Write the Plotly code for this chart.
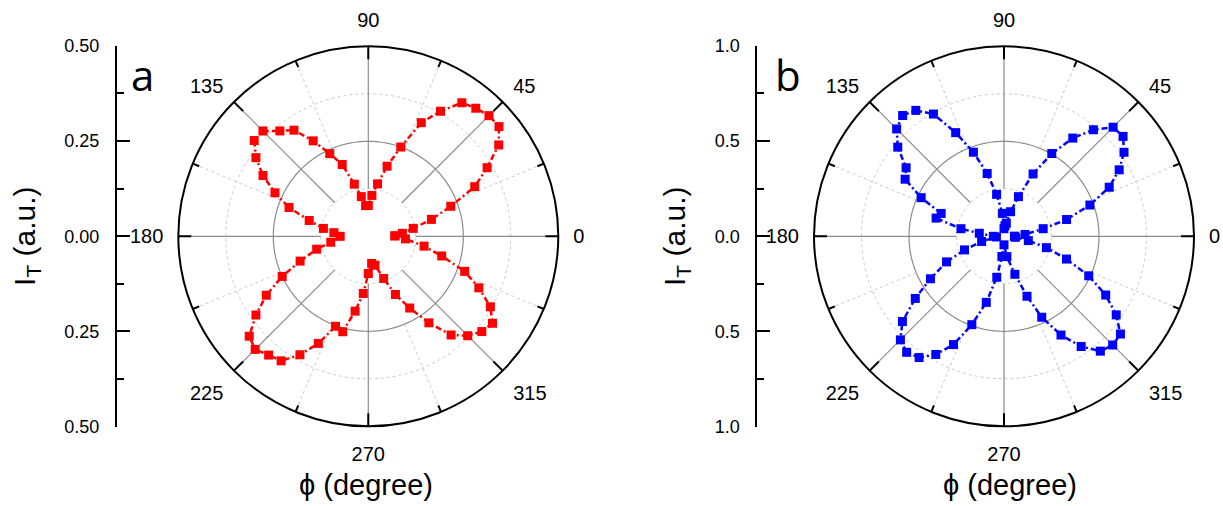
import numpy as np
import plotly.graph_objects as go

# ---- data: transmitted intensity vs. polarisation angle ----
theta_a = [1, 5, 10, 15, 20, 25, 30, 35, 40, 45, 50, 55, 60, 65, 70, 75, 80, 85, 90, 95,
           100, 105, 110, 115, 120, 125, 130, 135, 140, 145, 150, 155, 160, 165, 170, 174,
           180, 189, 194, 200, 205, 210, 215, 220, 225, 230, 235, 240, 245, 250, 255, 260,
           265, 270, 277, 283, 290, 295, 300, 305, 310, 315, 320, 325, 330, 335, 340, 345,
           350, 356]
r_a = [0.070, 0.090, 0.120, 0.172, 0.231, 0.309, 0.361, 0.419, 0.449, 0.449, 0.440, 0.429,
       0.380, 0.330, 0.250, 0.191, 0.140, 0.108, 0.081, 0.081, 0.106, 0.142, 0.201, 0.240,
       0.290, 0.341, 0.362, 0.392, 0.392, 0.361, 0.320, 0.271, 0.222, 0.161, 0.120, 0.091,
       0.074, 0.100, 0.140, 0.191, 0.250, 0.310, 0.361, 0.409, 0.421, 0.408, 0.400, 0.360,
       0.311, 0.252, 0.260, 0.200, 0.151, 0.098, 0.072, 0.078, 0.118, 0.169, 0.218, 0.278,
       0.339, 0.370, 0.390, 0.399, 0.371, 0.321, 0.270, 0.200, 0.149, 0.098]

theta_b = [0, 5, 11, 15, 20, 25, 30, 35, 40, 45, 50, 55, 60, 65, 70, 75, 80, 85, 90, 94,
           100, 105, 110, 115, 120, 125, 130, 135, 140, 145, 150, 155, 160, 165, 170, 173,
           180, 185, 193, 199, 204, 210, 215, 220, 225, 230, 235, 240, 245, 250, 255, 260,
           264, 270, 278, 286, 291, 295, 300, 305, 310, 315, 320, 325, 330, 335, 340, 345,
           350, 355]
r_b = [0.055, 0.111, 0.210, 0.341, 0.481, 0.611, 0.700, 0.771, 0.818, 0.812, 0.732, 0.631,
       0.503, 0.362, 0.222, 0.134, 0.070, 0.056, 0.040, 0.121, 0.224, 0.342, 0.471, 0.602,
       0.743, 0.809, 0.830, 0.799, 0.730, 0.629, 0.601, 0.481, 0.352, 0.370, 0.230, 0.131,
       0.056, 0.040, 0.121, 0.220, 0.331, 0.447, 0.570, 0.698, 0.771, 0.797, 0.779, 0.718,
       0.629, 0.495, 0.360, 0.219, 0.107, 0.045, 0.108, 0.208, 0.338, 0.470, 0.600, 0.708,
       0.789, 0.809, 0.800, 0.721, 0.618, 0.492, 0.350, 0.231, 0.130, 0.060]

angle_ticks = [0, 45, 90, 135, 180, 225, 270, 315]
y_ticks_a = [-0.5, -0.25, 0.0, 0.25, 0.5]
y_text_a = ["0.50", "0.25", "0.00", "0.25", "0.50"]
y_ticks_b = [-1.0, -0.5, 0.0, 0.5, 1.0]
y_text_b = ["1.0", "0.5", "0.0", "0.5", "1.0"]

FONT = "Liberation Sans, Arial, sans-serif"
W, H = 1223, 506
RIM_PX = 190  # polar radius in pixels

fig = go.Figure()


def spokes(angles, r0, r1):
    rs, ts = [], []
    for a in angles:
        rs += [r0, r1, None]
        ts += [a, a, None]
    return rs, ts


def add_panel(subplot, rmax, theta, r, color):
    # circular grid: dotted at 1/4 and 3/4, solid at 1/2 of the full radius
    ring = np.linspace(0, 360, 361)
    for frac, col, dash, w in [(0.25, "#c8c8c8", "dot", 1),
                               (0.5, "#8c8c8c", "solid", 1.2),
                               (0.75, "#c8c8c8", "dot", 1)]:
        fig.add_trace(go.Scatterpolar(r=[frac * rmax] * len(ring), theta=ring, mode="lines",
                                      line=dict(color=col, width=w, dash=dash),
                                      hoverinfo="skip", showlegend=False, subplot=subplot))
    minor_angles = [a + 22.5 for a in angle_ticks]
    # spokes: solid every 45 deg, dotted in between
    rs, ts = spokes(angle_ticks, 0.25 * rmax, rmax)
    fig.add_trace(go.Scatterpolar(r=rs, theta=ts, mode="lines",
                                  line=dict(color="#8c8c8c", width=1.2),
                                  hoverinfo="skip", showlegend=False, subplot=subplot))
    rs, ts = spokes(minor_angles, 0.5 * rmax, rmax)
    fig.add_trace(go.Scatterpolar(r=rs, theta=ts, mode="lines",
                                  line=dict(color="#c8c8c8", width=1, dash="dot"),
                                  hoverinfo="skip", showlegend=False, subplot=subplot))
    # inward rim ticks: long at labelled angles, short in between
    rs, ts = spokes(angle_ticks, rmax * (1 - 13 / RIM_PX), rmax)
    rs2, ts2 = spokes(minor_angles, rmax * (1 - 7 / RIM_PX), rmax)
    fig.add_trace(go.Scatterpolar(r=rs + rs2, theta=ts + ts2, mode="lines",
                                  line=dict(color="black", width=2),
                                  hoverinfo="skip", showlegend=False, subplot=subplot))
    # measured curve (closed loop)
    fig.add_trace(go.Scatterpolar(r=r + [r[0]], theta=theta + [theta[0]],
                                  mode="lines+markers",
                                  line=dict(color=color, width=2.5, dash="6px,3px,2px,3px"),
                                  marker=dict(symbol="square", size=9, color=color),
                                  showlegend=False, subplot=subplot))


add_panel("polar", 0.5, theta_a, r_a, "#ff0000")
add_panel("polar2", 1.0, theta_b, r_b, "#0000ff")

# empty traces so the left intensity scales are drawn
fig.add_trace(go.Scatter(x=[None], y=[None], xaxis="x", yaxis="y", showlegend=False))
fig.add_trace(go.Scatter(x=[None], y=[None], xaxis="x2", yaxis="y2", showlegend=False))


def polar_layout(cx, cy, rmax):
    R = RIM_PX
    return dict(
        domain=dict(x=[(cx - R) / W, (cx + R) / W], y=[(H - cy - R) / H, (H - cy + R) / H]),
        bgcolor="white",
        radialaxis=dict(range=[0, rmax], showgrid=False, showline=False, showticklabels=False,
                        ticks=""),
        angularaxis=dict(rotation=0, direction="counterclockwise", showgrid=False,
                         showline=True, linecolor="black", linewidth=2,
                         tickvals=angle_ticks, ticktext=[str(a) for a in angle_ticks],
                         ticks="outside", ticklen=10, tickcolor="rgba(0,0,0,0)",
                         tickfont=dict(family=FONT, size=20, color="black")),
    )


def yaxis_layout(anchor, tv, tt, rng, minor_dt):
    return dict(
        anchor=anchor, domain=[(H - 426.7) / H, (H - 45.7) / H], range=rng,
        tickvals=tv, ticktext=tt, ticks="inside", ticklen=13, tickwidth=2, tickcolor="black",
        minor=dict(dtick=minor_dt, ticks="inside", ticklen=7, tickwidth=2, tickcolor="black"),
        showline=True, linecolor="black", linewidth=2, showgrid=False, zeroline=False,
        automargin=False,
        tickfont=dict(family=FONT, size=18, color="black"), ticklabelstandoff=12,
        title=dict(text="I<sub>T</sub> (a.u.)", font=dict(family=FONT, size=30, color="black"),
                   standoff=20),
    )


fig.update_layout(
    width=W, height=H, margin=dict(l=0, r=0, t=0, b=0, autoexpand=False),
    paper_bgcolor="white", plot_bgcolor="rgba(0,0,0,0)",
    polar=polar_layout(368.3, 236.3, 0.5),
    polar2=polar_layout(1004, 236.3, 1.0),
    xaxis=dict(domain=[117 / W, 127 / W], visible=False, range=[0, 1], automargin=False),
    xaxis2=dict(domain=[757.3 / W, 767 / W], visible=False, range=[0, 1], automargin=False),
    yaxis=yaxis_layout("x", y_ticks_a, y_text_a, [-0.5, 0.5], 0.125),
    yaxis2=yaxis_layout("x2", y_ticks_b, y_text_b, [-1.0, 1.0], 0.25),
    showlegend=False,
)

# panel letters and angle titles
for x, txt in [(142, "a"), (788, "b")]:
    fig.add_annotation(x=x / W, y=1 - 74 / H, xref="paper", yref="paper", text=txt,
                       xanchor="center", yanchor="middle", showarrow=False,
                       font=dict(family="Open Sans, sans-serif", size=42, color="black"))
for x in [366, 1010]:
    fig.add_annotation(x=x / W, y=1 - 485 / H, xref="paper", yref="paper",
                       text="ϕ (degree)", xanchor="center", yanchor="middle", showarrow=False,
                       font=dict(family=FONT, size=29, color="black"))

fig.write_html("out.html")
